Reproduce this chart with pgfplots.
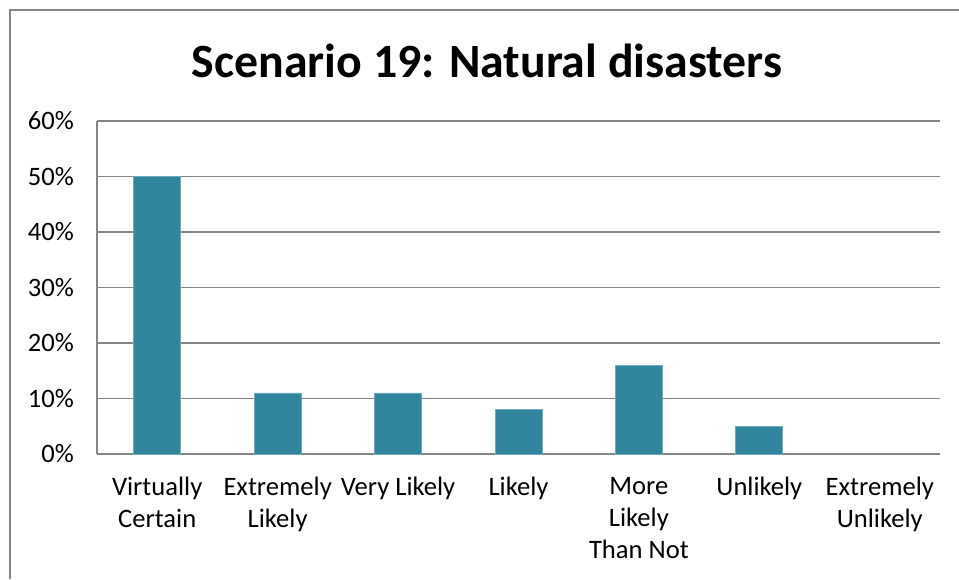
\documentclass[border=0pt]{standalone}
\usepackage{fontspec}
\setmainfont{Carlito}
\usepackage{pgfplots}
\pgfplotsset{compat=1.18}
\definecolor{bar}{HTML}{31859C}
\definecolor{gridc}{HTML}{868686}
\begin{document}
\begin{tikzpicture}
\path[use as bounding box] (0,0) rectangle (479.5pt,289.5pt);
\draw[gridc, line width=0.9pt] (5pt,0) -- (5pt,284.5pt) -- (479.5pt,284.5pt);
\node[anchor=base, font=\fontsize{23.9}{28}\selectfont\bfseries] at (243.5pt,250.5pt) {Scenario 19: Natural disasters};
\begin{axis}[
  at={(48.5pt,62.5pt)}, anchor=south west,
  scale only axis, width=421.5pt, height=166.5pt,
  ybar, bar width=23.5pt,
  xmin=-0.5, xmax=6.5, ymin=0, ymax=60,
  xtick={0,...,6},
  xticklabels={{Virtually\\Certain},{Extremely\\Likely},{Very Likely},{Likely},{More\\Likely\\Than Not},{Unlikely},{Extremely\\Unlikely}},
  xticklabel style={align=center, font=\fontsize{13.3}{16}\selectfont, yshift=-8pt},
  ytick={0,10,...,60},
  yticklabel={\pgfmathprintnumber{\tick}\%},
  yticklabel style={font=\fontsize{13.3}{15}\selectfont, xshift=-8pt},
  /pgf/number format/assume math mode=true,
  major tick length=0pt,
  ymajorgrids, grid style={gridc, line width=0.8pt},
  axis x line*=bottom, axis y line*=left,
  axis line style={gridc, line width=0.9pt, -},
  x axis line style={-}, y axis line style={-},
  tick style={draw=none},
]
\addplot[fill=bar, draw=bar!70!white, line width=0.4pt] coordinates {(0,50) (1,11) (2,11) (3,8) (4,16) (5,5)};
\end{axis}
\end{tikzpicture}
\end{document}
